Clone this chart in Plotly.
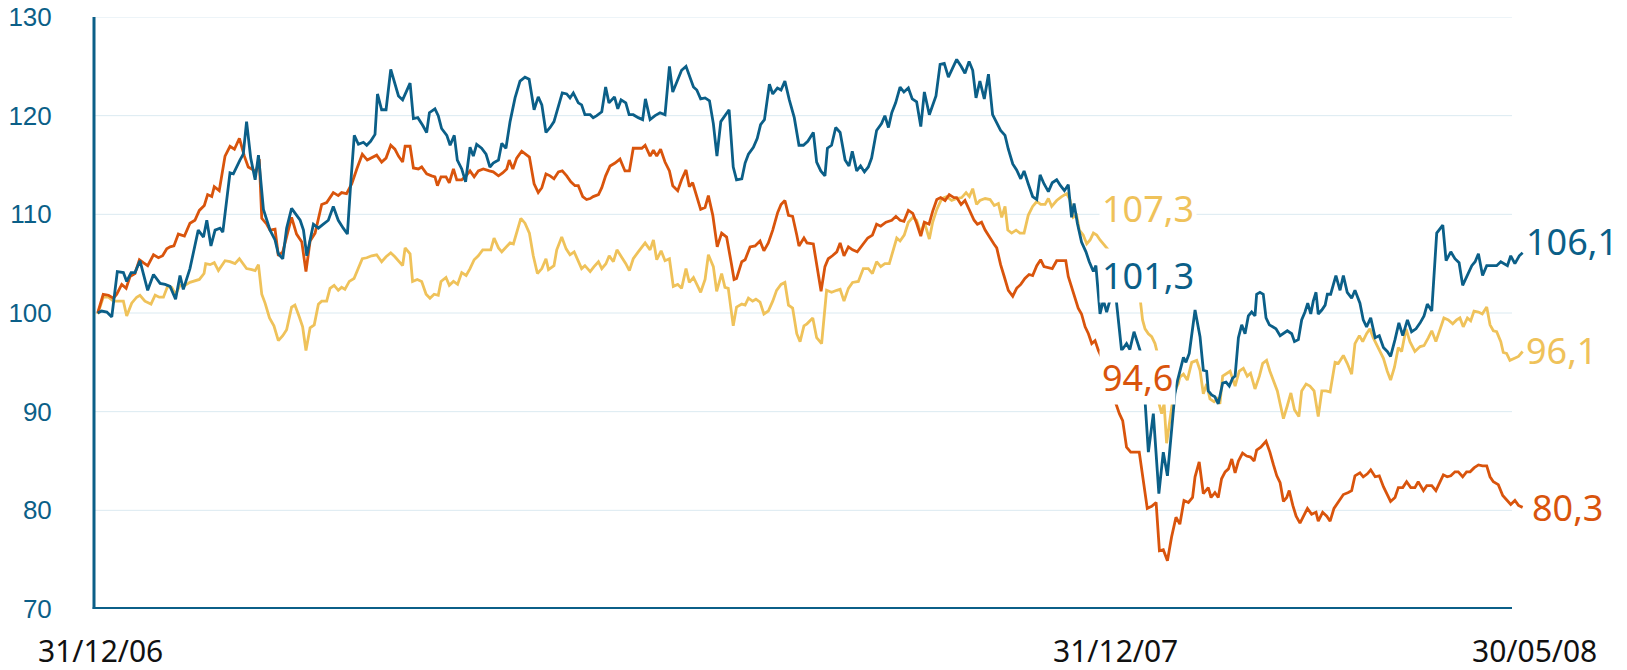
import plotly.graph_objects as go

# ---- data (day offsets from 31/12/06, index values, base 100) ----
blue_points = [
(0.0,100.0),(1.4,100.2),(3.3,100.1),(5.1,99.6),(7.1,104.2),(9.3,104.1),(10.5,103.2),(12.1,104.1),(13.5,104.1),(15.3,105.3),
(18.1,102.3),(20.2,103.9),(22.6,103.0),(24.4,102.9),(26.2,102.7),(28.2,101.4),(29.8,103.8),(31.0,102.4),(33.4,104.5),(36.4,108.4),
(38.3,107.7),(39.5,109.4),(41.0,106.8),(42.5,108.4),(44.3,108.6),(45.3,108.2),(47.9,114.2),(49.1,114.1),(51.5,115.5),(52.7,116.1),
(53.9,119.4),(55.4,115.7),(57.0,113.5),(58.2,116.0),(60.0,110.5),(62.4,108.4),(64.2,107.4),(65.4,106.0),(67.0,105.5),(68.4,108.6),
(70.2,110.6),(72.0,109.9),(73.3,109.4),(74.5,108.4),(75.7,105.8),(78.1,109.0),(79.9,108.6),(81.7,109.0),(83.5,109.4),(85.3,110.8),
(87.1,109.4),(88.9,108.6),(90.4,108.0),(91.6,113.1),(92.9,118.0),(94.4,117.1),(96.2,117.3),(97.4,117.0),(98.8,117.4),(100.4,118.1),
(101.3,122.2),(102.8,120.6),(104.4,120.6),(106.1,124.7),(107.6,123.3),(108.9,122.0),(110.4,121.6),(113.1,123.3),(114.3,119.7),(115.9,119.8),
(117.7,119.0),(119.1,118.3),(120.1,120.3),(122.1,120.7),(123.3,120.0),(124.5,118.7),(126.4,118.0),(127.6,117.0),(129.1,118.0),(130.2,115.5),
(131.8,114.6),(133.2,113.3),(134.8,116.8),(136.0,115.9),(137.2,117.1),(139.0,116.7),(140.6,116.1),(142.0,114.8),(143.2,115.2),(145.1,115.5),
(146.3,117.2),(147.8,116.7),(149.3,119.4),(151.1,121.8),(152.9,123.5),(154.7,123.9),(156.2,123.7),(158.0,120.6),(159.5,121.9),(160.8,121.1),
(162.3,118.3),(163.8,118.8),(165.2,119.4),(166.8,120.9),(168.2,122.3),(169.8,122.2),(171.0,121.8),(172.2,122.3),(174.0,121.3),(175.2,121.1),
(176.4,120.1),(178.3,120.1),(179.4,119.8),(180.7,120.0),(182.5,120.4),(183.9,122.9),(185.1,121.3),(187.1,121.9),(188.3,120.7),(189.5,121.6),
(191.2,121.3),(192.4,120.1),(193.9,120.1),(195.7,119.8),(197.3,119.6),(198.3,121.7),(200.0,119.6),(201.8,120.0),(203.6,120.3),(205.4,120.1),
(207.0,125.0),(208.2,122.4),(210.0,123.7),(211.4,124.6),(213.0,125.0),(214.5,123.7),(215.7,122.9),(216.9,122.6),(218.3,121.7),(219.9,121.8),
(221.5,121.5),(222.9,119.2),(224.2,115.9),(225.6,119.4),(227.1,120.0),(228.6,120.6),(230.1,114.8),(231.3,113.5),(233.2,113.6),(234.4,115.2),
(235.6,116.1),(237.4,116.8),(238.8,117.7),(240.0,119.1),(241.4,119.6),(243.2,123.2),(244.4,122.2),(246.1,122.8),(247.4,122.6),(248.8,123.5),
(250.4,121.6),(252.2,119.8),(253.9,117.0),(255.5,117.0),(257.1,117.4),(259.1,118.3),(260.3,115.3),(261.8,114.4),(263.3,113.9),(264.2,116.7),
(265.7,117.0),(267.2,118.8),(268.8,118.3),(270.6,115.5),(272.0,114.9),(273.2,116.4),(274.8,114.4),(276.2,114.9),(277.6,114.3),(279.0,114.8),
(280.2,115.7),(282.0,118.5),(283.8,119.2),(285.0,120.0),(286.3,118.8),(287.5,120.3),(288.9,121.3),(290.5,122.9),(291.9,122.4),(293.5,122.8),
(294.9,121.7),(296.5,121.4),(298.0,118.9),(299.3,122.4),(301.1,120.1),(303.5,122.0),(305.0,125.2),(306.5,125.3),(308.0,123.9),(309.5,124.8),
(311.0,125.7),(312.6,125.0),(314.0,124.3),(315.5,125.5),(316.8,124.6),(318.0,121.8),(319.4,123.5),(321.0,121.7),(322.5,124.2),(324.0,120.1),
(325.5,119.2),(326.9,118.5),(328.5,118.0),(329.7,116.6),(331.3,115.1),(332.7,114.5),(334.2,113.6),(335.4,114.4),(336.9,113.1),(338.5,111.8),
(340.0,111.5),(341.2,114.0),(342.6,113.1),(344.2,112.3),(345.6,113.2),(347.2,113.5),(348.6,112.9),(350.0,112.4),(351.4,113.0),(352.6,109.7),
(353.5,111.1),(354.7,109.1),(356.2,107.2),(357.8,106.2),(359.0,105.2),(360.5,104.2),(361.4,104.8),(362.3,102.3),(362.9,99.9),(364.1,101.3),
(365.3,100.1),(366.5,101.3),(368.7,101.5),(370.7,96.2),(372.5,96.9),(373.7,96.3),(375.2,98.1),(377.4,96.2),(379.2,91.1),(380.4,85.9),
(382.2,89.8),(384.2,81.7),(385.8,85.9),(387.3,83.5),(388.8,88.4),(390.0,91.8),(391.0,93.2),(393.1,95.5),(394.0,95.0),(395.2,95.9),
(397.3,100.3),(399.1,97.6),(400.3,94.2),(401.5,94.1),(402.1,92.1),(403.3,91.7),(404.5,91.5),(405.7,90.8),(407.3,92.9),(408.5,93.0),
(409.7,92.6),(410.9,93.4),(411.8,93.6),(413.0,97.5),(414.2,98.8),(415.4,97.9),(416.6,99.7),(417.8,100.1),(419.0,99.7),(419.6,101.9),
(420.8,102.1),(422.0,101.9),(423.0,99.5),(424.2,98.8),(425.4,98.6),(426.6,98.4),(428.1,97.7),(429.3,97.9),(430.7,98.2),(432.3,97.9),
(433.3,97.1),(434.7,97.3),(435.9,99.3),(437.1,100.1),(438.1,101.0),(439.2,99.9),(440.1,101.2),(441.1,102.1),(441.9,99.9),(443.2,100.3),
(444.4,100.8),(445.2,101.9),(446.4,101.9),(447.4,102.9),(448.3,103.8),(449.8,102.3),(451.0,103.8),(452.4,102.1),(454.0,101.5),(455.2,102.3),
(457.0,101.0),(458.2,99.3),(459.4,98.6),(460.9,99.5),(462.5,97.5),(464.0,97.7),(465.5,96.5),(466.9,96.1),(468.1,95.6),(469.7,97.3),
(471.1,99.0),(472.5,97.7),(474.2,99.3),(475.7,98.1),(477.3,98.4),(478.8,99.0),(480.2,99.7),(481.4,100.9),(483.0,100.2),(484.8,108.1),
(486.0,108.5),(487.0,108.9),(488.2,105.3),(489.9,106.2),(491.4,105.5),(492.9,105.1),(494.2,102.8),(495.6,103.6),(497.5,104.8),(498.7,105.2),
(499.9,106.0),(501.4,103.8),(502.9,104.8),(504.7,104.8),(506.5,104.8),(508.0,105.2),(509.5,105.0),(510.4,104.8),(511.6,105.8),(513.1,105.0),
(514.7,105.8),(515.9,106.1),
]

orange_points = [
(0.0,100.0),(2.0,101.9),(3.9,101.8),(5.7,101.5),(6.9,101.9),(8.7,102.9),(10.3,102.5),(11.7,103.7),(13.5,104.0),(15.1,105.4),
(16.5,105.1),(18.1,104.8),(20.2,105.9),(22.0,105.6),(23.5,105.8),(25.0,106.5),(26.2,106.7),(27.6,106.8),(29.2,108.0),(31.4,107.8),
(33.4,109.1),(35.2,109.4),(36.8,110.4),(38.6,110.9),(39.8,112.0),(41.3,111.8),(42.2,112.8),(44.0,112.4),(46.1,115.9),(47.9,116.9),
(49.5,116.6),(51.3,117.7),(53.1,115.9),(54.5,114.8),(56.4,114.5),(57.3,114.3),(58.5,115.6),(59.4,109.6),(61.2,109.0),(62.4,108.4),
(64.2,108.5),(65.4,105.8),(67.0,106.2),(68.4,107.7),(70.2,109.7),(72.0,108.0),(73.9,107.2),(75.4,104.2),(76.9,107.3),(78.7,108.1),
(81.1,111.0),(82.9,111.2),(85.3,112.2),(87.1,111.9),(88.3,112.2),(90.1,112.1),(92.0,113.1),(93.8,114.6),(95.8,116.1),(97.6,115.5),
(99.2,115.7),(101.0,116.0),(102.8,115.3),(104.4,115.7),(106.1,117.0),(107.6,116.6),(108.9,115.9),(110.4,115.3),(111.3,116.9),(113.1,116.9),
(114.3,114.7),(116.1,114.6),(117.3,114.8),(119.1,114.1),(120.9,113.9),(122.1,113.8),(123.0,112.9),(124.3,113.8),(126.1,113.8),(127.3,113.2),
(128.8,114.6),(130.0,113.5),(131.8,113.5),(133.4,113.9),(134.8,114.4),(136.3,113.8),(137.8,114.4),(139.6,114.6),(141.8,114.4),(143.2,114.3),
(145.1,113.9),(146.6,114.2),(148.1,114.6),(149.0,115.5),(150.3,114.6),(151.7,115.7),(153.5,116.4),(155.1,116.1),(156.3,115.8),(158.0,113.1),
(159.5,112.2),(160.8,112.7),(162.3,114.1),(163.8,113.9),(165.2,113.6),(166.8,114.3),(168.2,114.4),(169.8,113.9),(171.3,113.3),(172.8,112.9),
(174.0,112.9),(175.6,111.8),(177.0,111.5),(178.3,111.6),(179.4,111.8),(181.3,112.0),(182.5,112.7),(183.9,113.9),(185.5,114.9),(187.3,115.2),
(189.1,115.6),(190.9,114.4),(192.5,114.4),(193.9,116.7),(195.7,116.7),(197.0,116.7),(198.2,117.0),(200.0,115.9),(201.2,116.5),(202.4,115.9),
(203.8,116.6),(205.4,115.3),(207.0,114.4),(208.2,112.9),(210.0,112.4),(211.4,113.5),(213.0,114.5),(214.2,112.8),(215.4,113.2),(216.9,111.8),
(218.3,110.5),(219.9,110.7),(221.1,111.9),(222.7,109.9),(223.5,108.4),(224.3,106.7),(225.9,108.1),(227.7,107.7),(229.5,104.9),(230.4,103.4),
(231.3,103.5),(233.2,105.2),(234.4,105.4),(236.2,106.7),(238.0,106.8),(239.8,107.3),(241.2,106.3),(242.8,107.1),(244.4,108.4),(246.2,110.2),
(247.4,111.0),(248.8,111.4),(250.1,109.9),(251.6,109.8),(253.1,107.9),(253.9,106.8),(255.7,107.6),(256.8,107.1),(259.1,107.0),(260.6,104.5),
(261.9,102.2),(263.3,104.7),(264.5,105.5),(266.0,105.8),(267.6,106.2),(268.8,107.1),(270.2,105.8),(271.8,106.7),(273.3,106.4),(275.0,106.2),
(277.2,107.0),(278.8,107.6),(280.5,107.9),(282.0,109.0),(283.5,108.8),(285.4,109.2),(287.5,109.4),(289.0,109.8),(290.5,109.4),(291.9,109.3),
(293.5,110.4),(295.1,110.1),(296.5,109.1),(298.0,107.8),(299.3,109.2),(301.0,109.0),(302.3,110.3),(303.8,111.5),(305.2,111.7),(306.8,111.4),
(308.3,112.0),(310.0,111.7),(311.0,111.7),(312.6,111.0),(314.0,111.4),(315.6,110.5),(317.3,109.4),(318.5,109.0),(320.0,109.2),(321.3,108.4),
(322.8,107.7),(324.5,107.0),(325.5,106.6),(326.9,104.9),(328.1,103.8),(329.7,102.3),(331.3,101.7),(332.7,102.5),(334.2,102.9),(335.7,103.5),
(337.2,103.9),(338.5,103.8),(340.0,104.8),(341.4,105.4),(342.6,104.7),(344.2,104.6),(345.6,104.5),(347.2,105.3),(349.0,105.3),(350.5,105.3),
(351.4,103.7),(352.6,102.6),(353.8,101.6),(355.0,100.5),(356.2,99.9),(357.5,98.6),(358.7,97.9),(359.9,96.9),(361.1,97.2),(362.3,96.2),
(365.0,94.6),(368.3,91.1),(369.9,89.8),(371.1,89.1),(372.5,86.4),(374.0,85.9),(377.1,85.9),(378.6,83.0),(380.0,80.2),(381.6,80.4),
(383.2,80.8),(384.4,75.9),(385.8,76.0),(387.3,74.9),(388.8,77.3),(390.4,79.3),(391.8,78.6),(393.3,81.0),(394.9,80.8),(396.4,81.3),
(397.3,83.4),(398.8,84.9),(400.3,81.7),(402.1,82.3),(403.1,81.3),(404.5,81.8),(405.7,81.3),(406.9,83.2),(408.2,83.9),(409.4,84.2),
(410.6,85.2),(411.8,83.8),(413.0,85.0),(414.5,85.8),(416.0,85.5),(417.4,85.4),(418.7,85.0),(419.6,86.1),(421.1,86.4),(423.0,87.0),
(424.4,85.9),(425.7,84.6),(426.9,83.5),(428.1,82.8),(429.3,80.9),(430.5,81.3),(431.4,82.0),(432.7,80.5),(433.9,79.4),(435.3,78.7),
(436.5,79.4),(438.0,80.2),(439.5,79.6),(441.1,79.8),(441.9,78.9),(443.5,79.8),(445.0,79.4),(446.2,78.9),(447.6,80.2),(449.2,80.8),
(451.0,81.6),(452.8,81.8),(454.0,82.0),(455.2,83.5),(457.0,83.8),(458.2,83.4),(459.7,83.7),(460.9,84.1),(462.5,83.4),(464.0,83.5),
(465.5,82.4),(466.9,81.6),(468.1,80.9),(469.7,81.3),(470.9,82.3),(472.5,82.3),(473.9,82.9),(475.4,82.3),(476.9,82.3),(478.1,82.9),
(480.0,82.0),(481.2,82.5),(483.0,82.5),(484.5,82.0),(486.0,82.9),(487.2,83.6),(488.6,83.4),(489.9,83.5),(491.4,83.9),(492.6,83.9),
(494.2,83.4),(495.6,83.9),(496.9,83.9),(498.3,84.3),(499.9,84.6),(501.4,84.5),(502.9,84.5),(504.1,83.4),(505.3,82.9),(507.1,82.6),
(508.7,81.5),(510.1,81.1),(511.6,80.6),(513.1,81.0),(514.4,80.5),(515.9,80.3),
]

yellow_points = [
(0.0,99.9),(2.0,101.6),(3.9,101.6),(5.7,101.2),(7.5,101.2),(9.3,101.2),(10.5,99.7),(12.3,101.0),(14.1,101.6),(15.3,101.8),
(17.1,101.2),(19.3,100.9),(20.8,101.8),(22.3,101.6),(23.8,101.6),(25.3,102.7),(26.8,102.6),(28.2,101.9),(29.8,102.8),(31.6,102.8),
(33.4,103.1),(35.2,103.3),(36.8,103.4),(38.5,104.0),(39.1,105.0),(40.7,104.9),(42.2,105.1),(43.7,104.3),(46.1,105.3),(47.9,105.2),
(49.7,105.0),(51.3,105.5),(53.9,104.5),(55.8,104.4),(57.0,104.3),(58.2,104.9),(59.4,101.9),(60.6,101.0),(62.2,99.5),(63.8,98.7),
(65.4,97.2),(67.0,97.7),(68.4,98.3),(70.2,100.6),(71.4,100.8),(73.0,99.6),(74.2,98.6),(75.4,96.2),(76.9,98.5),(78.4,98.8),
(79.9,100.9),(81.1,101.2),(82.9,101.2),(84.1,102.5),(85.6,102.8),(87.1,102.3),(88.3,102.6),(89.5,102.4),(91.1,103.2),(92.8,103.5),
(94.4,104.5),(95.8,105.5),(97.4,105.6),(99.2,105.8),(101.0,105.9),(102.8,105.2),(104.4,105.7),(106.1,106.1),(107.6,105.7),(109.5,105.1),
(110.4,104.8),(111.3,106.6),(113.1,106.0),(114.0,103.2),(115.7,103.4),(117.3,103.2),(118.9,101.9),(120.3,101.5),(121.8,101.9),(123.3,101.8),
(124.3,103.2),(126.1,103.6),(127.3,102.8),(128.8,103.2),(130.3,102.9),(131.8,104.1),(133.4,103.8),(134.8,104.5),(136.3,105.4),(137.8,105.8),
(139.4,106.4),(140.8,106.4),(142.3,106.4),(143.5,107.6),(145.1,106.6),(146.3,106.2),(148.1,106.8),(149.3,107.1),(150.5,107.0),(151.7,108.1),
(153.2,109.6),(154.7,109.1),(156.3,108.1),(157.7,105.8),(159.2,104.0),(160.8,104.5),(162.3,105.5),(163.2,104.4),(165.2,104.8),(166.2,106.4),
(168.0,107.7),(169.6,106.5),(171.0,105.9),(172.5,106.2),(174.0,105.2),(175.2,104.5),(176.4,104.8),(178.3,104.2),(179.7,104.7),(181.3,105.2),
(182.5,104.5),(184.0,105.0),(185.2,105.8),(186.7,105.2),(188.0,106.4),(189.7,105.7),(191.2,105.0),(192.5,104.3),(193.9,105.5),(195.7,106.2),
(197.3,106.8),(198.2,107.1),(200.0,106.4),(201.2,107.4),(202.4,105.4),(204.0,106.3),(205.4,105.3),(207.0,105.5),(208.4,102.7),(210.0,102.9),
(211.4,102.5),(213.0,104.5),(214.2,103.1),(215.7,103.6),(217.1,102.8),(218.3,102.1),(219.9,103.4),(221.1,105.9),(222.9,104.7),(224.1,102.2),
(225.9,104.0),(227.1,102.6),(228.3,102.5),(230.1,98.7),(231.3,100.6),(233.2,100.9),(234.4,100.8),(235.6,101.5),(237.1,101.2),(238.3,101.4),
(239.8,101.1),(241.2,99.9),(242.8,100.2),(244.4,101.2),(245.8,102.3),(247.4,102.9),(248.8,103.1),(250.1,100.8),(251.6,100.5),(253.1,97.9),
(254.3,97.1),(255.7,98.7),(256.8,98.9),(258.9,99.5),(260.3,97.5),(262.1,96.9),(263.9,102.3),(265.7,102.1),(267.6,102.3),(268.8,102.4),
(270.2,101.2),(271.8,102.5),(273.3,103.1),(275.4,103.2),(277.2,104.5),(279.0,104.5),(280.5,104.0),(282.0,105.2),(283.5,104.7),(285.0,105.0),
(286.6,105.0),(288.1,106.5),(289.3,107.6),(290.5,107.3),(292.0,107.9),(293.5,109.2),(295.1,109.7),(296.5,109.4),(298.0,108.1),(299.3,109.2),
(301.1,107.5),(302.3,109.2),(303.8,110.5),(305.6,111.6),(307.4,111.8),(309.2,111.4),(311.0,111.6),(312.8,111.7),(314.4,112.2),(315.6,111.8),
(316.8,112.6),(318.2,111.0),(319.4,111.4),(321.3,111.6),(323.1,111.5),(324.6,110.9),(326.1,111.1),(327.3,109.7),(328.5,110.8),(329.5,108.4),
(330.9,108.1),(332.5,108.4),(333.9,108.1),(335.4,108.1),(336.9,109.9),(338.5,110.8),(340.0,111.3),(341.4,111.0),(343.0,111.0),(344.2,111.6),
(345.4,110.8),(347.2,111.4),(349.0,111.8),(350.8,112.1),(352.0,111.5),(353.2,109.7),(354.4,109.9),(355.4,108.4),(356.8,107.9),(358.1,107.0),
(359.3,107.4),(360.5,108.1),(361.7,107.9),(362.9,107.4),(364.1,107.0),(365.9,106.4),(377.4,101.5),(378.3,99.3),(379.2,98.4),(380.4,97.9),
(381.6,97.6),(382.8,96.9),(383.6,96.0),(384.0,91.1),(385.2,89.8),(386.1,90.8),(387.0,86.8),(388.2,89.1),(389.4,91.5),(390.6,92.5),
(391.2,92.8),(391.8,93.5),(393.1,93.8),(394.5,93.2),(396.1,95.0),(397.9,95.2),(399.1,94.2),(400.3,91.8),(401.5,92.8),(402.7,91.3),
(404.2,91.0),(405.4,91.3),(406.3,90.8),(407.3,93.6),(408.8,93.9),(410.0,94.1),(410.6,93.6),(411.8,92.6),(413.3,94.1),(414.8,94.4),
(416.2,93.6),(417.4,93.9),(419.0,92.3),(420.6,93.6),(421.8,94.9),(423.2,95.2),(424.4,94.1),(425.9,93.0),(427.1,92.1),(428.1,90.8),
(429.3,89.3),(430.7,90.6),(432.0,91.9),(433.3,90.2),(434.9,89.5),(435.9,92.1),(437.5,92.8),(438.9,92.6),(440.4,92.1),(441.9,89.5),
(443.2,92.1),(444.7,92.1),(446.2,92.0),(448.0,95.0),(449.2,94.9),(451.0,95.7),(452.4,94.9),(454.0,93.8),(455.2,96.9),(456.8,97.7),
(458.0,97.1),(459.4,97.9),(460.6,98.4),(461.8,97.5),(463.1,96.7),(464.3,96.0),(465.5,95.4),(466.9,94.1),(468.1,93.2),(469.5,94.5),
(470.9,96.5),(472.1,96.1),(473.7,98.4),(475.1,97.1),(476.9,96.1),(478.8,96.6),(480.2,96.7),(481.8,97.5),(483.0,98.2),(484.5,97.1),
(486.0,98.4),(487.4,99.5),(489.0,99.3),(490.6,98.9),(492.0,99.3),(493.2,99.5),(494.4,98.6),(495.9,99.5),(497.1,99.2),(498.3,100.2),
(499.9,100.1),(501.3,99.9),(502.9,100.6),(504.1,98.8),(505.3,98.2),(506.5,98.1),(508.0,97.1),(508.9,96.0),(510.1,95.9),(511.3,95.2),
(512.8,95.4),(514.4,95.6),(515.9,96.1),
]

blue_day, blue_val = zip(*blue_points)
orange_day, orange_val = zip(*orange_points)
yellow_day, yellow_val = zip(*yellow_points)

# values at 31/12/07 (label texts)
value_31_12_07 = {"yellow": 107.3, "blue": 101.3, "orange": 94.6}

x_tick_days = [0, 365, 516]
x_tick_text = ["31/12/06", "31/12/07", "30/05/08"]
y_ticks = [70, 80, 90, 100, 110, 120, 130]

BLUE = "#0b5f88"
ORANGE = "#d9540c"
YELLOW = "#efc25a"
GRID = "#dbeaf1"
FONT = "Noto Sans"
TICKFONT = "Liberation Sans, Arial, sans-serif"

def fmt(v):
    return f"{v:.1f}".replace(".", ",")

fig = go.Figure()
for d, v, c in [(yellow_day, yellow_val, YELLOW), (orange_day, orange_val, ORANGE), (blue_day, blue_val, BLUE)]:
    fig.add_trace(go.Scatter(x=list(d), y=list(v), mode="lines",
                             line=dict(color=c, width=2.8), hoverinfo="skip", showlegend=False))

W, H = 1627, 670
L, R, T, B = 94, 103, 17, 61
plot_w = W - L - R
x_end_paper = (1512 - L) / plot_w

shapes = []
for g in y_ticks[1:]:
    shapes.append(dict(type="line", xref="paper", yref="y", x0=0, x1=x_end_paper, y0=g, y1=g,
                       line=dict(color=GRID, width=1), layer="below"))
# axis lines
shapes.append(dict(type="line", xref="paper", yref="y", x0=0, x1=0, y0=69.8, y1=130,
                   line=dict(color=BLUE, width=3), layer="above"))
shapes.append(dict(type="line", xref="paper", yref="y", x0=-1.3 / plot_w, x1=x_end_paper, y0=70, y1=70,
                   line=dict(color=BLUE, width=4), layer="above"))

annotations = []
# date labels
for d, t, sh in zip(x_tick_days, x_tick_text, [3, 10, 12]):
    annotations.append(dict(x=d, y=-0.0695, xref="x", yref="paper", text=t, showarrow=False,
                            xanchor="center", yanchor="middle", xshift=sh,
                            font=dict(family=FONT, size=30, color="#111111")))
# labels at 31/12/07 (white boxes)
for key, col, yy in [("yellow", YELLOW, 110.55), ("blue", BLUE, 103.8), ("orange", ORANGE, 93.46)]:
    annotations.append(dict(x=362.6, y=yy, xref="x", yref="y", text=fmt(value_31_12_07[key]),
                            showarrow=False, xanchor="left", yanchor="middle",
                            bgcolor="white", borderpad=2,
                            font=dict(family=FONT, size=36, color=col)))
# end labels
for d, v, col, yy, sh in [(blue_day, blue_val, BLUE, 107.25, 1),
                          (yellow_day, yellow_val, YELLOW, 96.25, 1),
                          (orange_day, orange_val, ORANGE, 80.24, 7)]:
    annotations.append(dict(x=d[-1], y=yy, xref="x", yref="y", text=fmt(v[-1]),
                            showarrow=False, xanchor="left", yanchor="middle", xshift=sh,
                            font=dict(family=FONT, size=36, color=col)))

fig.update_layout(
    width=W, height=H,
    margin=dict(l=L, r=R, t=T, b=B, autoexpand=False),
    paper_bgcolor="white", plot_bgcolor="white",
    xaxis=dict(range=[-1.34, 516.4], showgrid=False, zeroline=False, showline=False,
               showticklabels=False, ticks="", automargin=False),
    yaxis=dict(range=[69.999, 130.001], tickvals=y_ticks, showgrid=False, zeroline=False, showline=False,
               ticks="outside", ticklen=36, tickcolor="rgba(0,0,0,0)", automargin=False,
               tickfont=dict(family=TICKFONT, size=26, color=BLUE)),
    shapes=shapes, annotations=annotations,
    font=dict(family=FONT),
)

fig.write_html("out.html", config={"displayModeBar": False},
               post_script="document.body.style.margin='0px';document.body.style.overflow='hidden';")
